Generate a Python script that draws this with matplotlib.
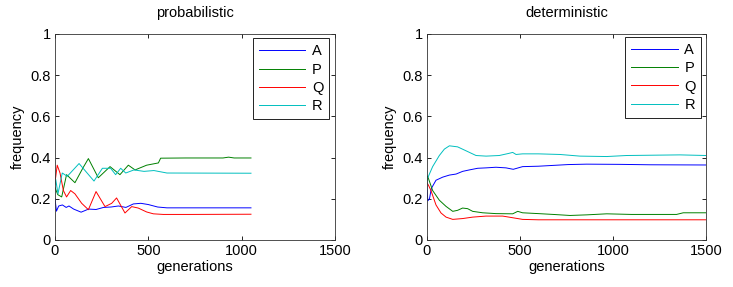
import matplotlib
matplotlib.use("Agg")
import matplotlib.pyplot as plt

plt.rcParams['font.family'] = ['Liberation Sans', 'DejaVu Sans']

# ---------------- data: probabilistic ----------------
pA_gen = [0, 8, 20, 40, 60, 75, 100, 140, 180, 220, 260, 300, 340, 380, 420, 460, 500, 550, 600, 1050]
pA_val = [0.20, 0.14, 0.165, 0.17, 0.158, 0.165, 0.15, 0.135, 0.15, 0.148, 0.158, 0.16, 0.165, 0.158, 0.175, 0.178, 0.172, 0.16, 0.156, 0.156]

pP_gen = [0, 15, 36, 62, 107, 150, 179, 232, 295, 348, 393, 429, 491, 554, 566, 700, 900, 930, 960, 1050]
pP_val = [0.255, 0.22, 0.209, 0.317, 0.278, 0.35, 0.395, 0.302, 0.356, 0.317, 0.363, 0.340, 0.363, 0.374, 0.397, 0.398, 0.398, 0.402, 0.398, 0.398]

pQ_gen = [0, 12, 27, 45, 62, 84, 107, 143, 179, 220, 268, 304, 330, 375, 411, 446, 491, 527, 580, 723, 1050]
pQ_val = [0.278, 0.363, 0.325, 0.24, 0.209, 0.24, 0.224, 0.178, 0.147, 0.235, 0.162, 0.178, 0.204, 0.131, 0.162, 0.155, 0.136, 0.127, 0.124, 0.124, 0.125]

pR_gen = [0, 4, 16, 39, 66, 129, 209, 254, 298, 325, 352, 379, 423, 477, 530, 600, 1050]
pR_val = [0.27, 0.294, 0.224, 0.325, 0.309, 0.371, 0.286, 0.348, 0.348, 0.317, 0.348, 0.325, 0.340, 0.333, 0.337, 0.325, 0.324]

# ---------------- data: deterministic ----------------
dA_gen = [0, 6, 15, 25, 50, 86, 122, 158, 193, 229, 274, 319, 372, 426, 465, 515, 600, 680, 760, 859, 1038, 1200, 1500]
dA_val = [0.27, 0.19, 0.2, 0.25, 0.29, 0.305, 0.315, 0.32, 0.333, 0.34, 0.348, 0.35, 0.353, 0.35, 0.343, 0.356, 0.358, 0.362, 0.366, 0.368, 0.367, 0.365, 0.364]

dP_gen = [0, 5, 32, 68, 104, 140, 166, 193, 220, 247, 301, 372, 462, 489, 515, 600, 680, 770, 860, 967, 1100, 1342, 1378, 1500]
dP_val = [0.30, 0.31, 0.24, 0.193, 0.163, 0.139, 0.144, 0.155, 0.152, 0.139, 0.132, 0.128, 0.127, 0.139, 0.132, 0.128, 0.124, 0.119, 0.122, 0.127, 0.124, 0.124, 0.132, 0.132]

dQ_gen = [0, 10, 23, 50, 77, 104, 140, 193, 247, 319, 408, 462, 515, 600, 1500]
dQ_val = [0.28, 0.265, 0.24, 0.17, 0.131, 0.111, 0.1, 0.104, 0.111, 0.116, 0.116, 0.108, 0.1, 0.098, 0.098]

dR_gen = [0, 5, 32, 68, 95, 122, 166, 211, 265, 319, 390, 440, 462, 480, 515, 600, 716, 823, 967, 1074, 1360, 1500]
dR_val = [0.27, 0.30, 0.356, 0.41, 0.441, 0.457, 0.452, 0.433, 0.41, 0.407, 0.41, 0.42, 0.425, 0.415, 0.418, 0.418, 0.415, 0.407, 0.405, 0.41, 0.413, 0.41]

labels = ['A', 'P', 'Q', 'R']
titles = ['probabilistic', 'deterministic']
xticks = [0, 500, 1000, 1500]
yticks = [0, 0.2, 0.4, 0.6, 0.8, 1]
ytick_labels = ['0', '0.2', '0.4', '0.6', '0.8', '1']
colors = [(0, 0, 1), (0, 0.5, 0), (1, 0, 0), (0, 0.75, 0.75)]

panels = [
    [(pA_gen, pA_val), (pP_gen, pP_val), (pQ_gen, pQ_val), (pR_gen, pR_val)],
    [(dA_gen, dA_val), (dP_gen, dP_val), (dQ_gen, dQ_val), (dR_gen, dR_val)],
]

fig = plt.figure(figsize=(7.33, 2.87), dpi=100)
rects = [[0.0750, 0.1638, 0.382, 0.718], [0.5821, 0.1638, 0.381, 0.718]]
anchors = [(0.979, 0.978), (0.984, 0.985)]

for i in range(2):
    ax = fig.add_axes(rects[i])
    for (g, v), lab, c in zip(panels[i], labels, colors):
        ax.plot(g, v, color=c, lw=0.7, label=lab)
    ax.set_xlim(0, 1500)
    ax.set_ylim(0, 1)
    ax.set_xticks(xticks)
    ax.set_xticklabels([str(t) for t in xticks])
    ax.set_yticks(yticks)
    ax.set_yticklabels(ytick_labels)
    ax.tick_params(direction='in', top=True, right=True, length=3, width=0.6, labelsize=10.5, pad=3)
    for s in ax.spines.values():
        s.set_linewidth(0.6)
        s.set_color('#333333')
    ax.set_xlabel('generations', fontsize=10.5, labelpad=1)
    ax.set_ylabel('frequency', fontsize=10.5, labelpad=4)
    ax.set_title(titles[i], fontsize=10.5, pad=12)
    leg = ax.legend(loc='upper right', bbox_to_anchor=anchors[i], borderaxespad=0,
                    fancybox=False, framealpha=1, edgecolor='#222222', fontsize=10.5,
                    handlelength=3.2, handletextpad=0.45, labelspacing=0.3, borderpad=0.4)
    leg.get_frame().set_linewidth(0.7)

fig.savefig('out.png', dpi=100)
